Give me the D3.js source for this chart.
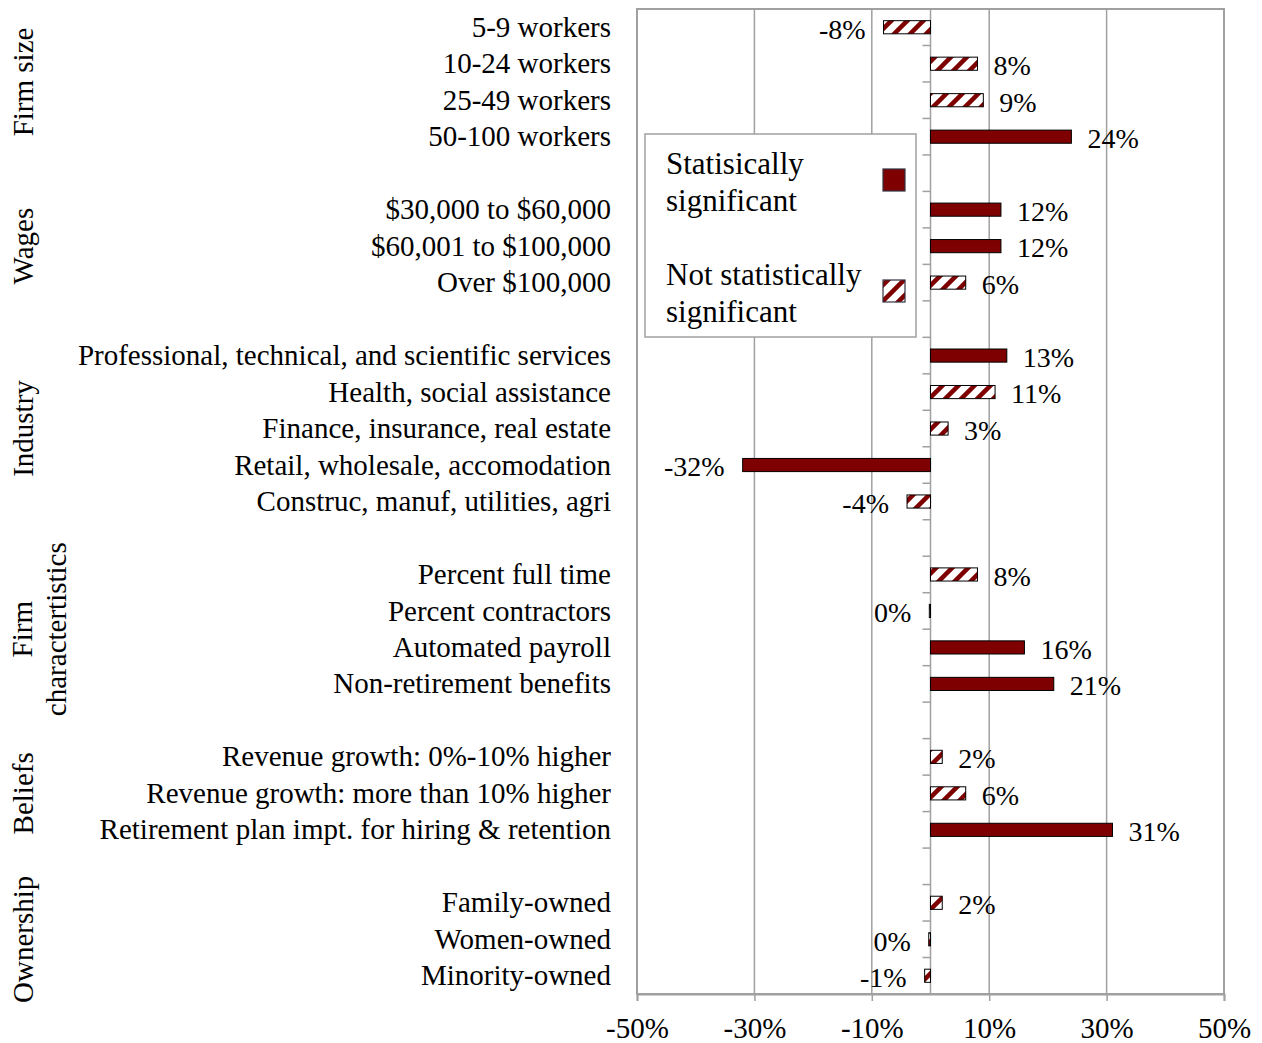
<!DOCTYPE html>
<html>
<head>
<meta charset="utf-8">
<script src="https://cdn.jsdelivr.net/npm/d3@7"></script>
<style>
  body { margin: 0; background: #fff; }
  text { font-family: "Liberation Serif", "Times New Roman", serif; fill: #000; }
</style>
</head>
<body>
<div id="chart"></div>
<script>
// rows from top to bottom, "" = spacer row
const categories = [
  "5-9 workers", "10-24 workers", "25-49 workers", "50-100 workers", "",
  "$30,000 to $60,000", "$60,001 to $100,000", "Over $100,000", "",
  "Professional, technical, and scientific services", "Health, social assistance",
  "Finance, insurance, real estate", "Retail, wholesale, accomodation",
  "Construc, manuf, utilities, agri", "",
  "Percent full time", "Percent contractors", "Automated payroll", "Non-retirement benefits", "",
  "Revenue growth: 0%-10% higher", "Revenue growth: more than 10% higher",
  "Retirement plan impt. for hiring & retention", "",
  "Family-owned", "Women-owned", "Minority-owned"
];
const values = [
  -8, 8, 9, 24, null,
  12, 12, 6, null,
  13, 11, 3, -32, -4, null,
  8, -0.2, 16, 21, null,
  2, 6, 31, null,
  2, -0.3, -1
];
// 1 = statistically significant
const significant = [
  0, 0, 0, 1, null,
  1, 1, 0, null,
  1, 0, 0, 1, 0, null,
  0, 0, 1, 1, null,
  0, 0, 1, null,
  0, 0, 0
];
const groups = [
  { name: ["Firm size"], first: 0, last: 3 },
  { name: ["Wages"], first: 5, last: 7 },
  { name: ["Industry"], first: 9, last: 13 },
  { name: ["Firm", "charactertistics"], first: 15, last: 18 },
  { name: ["Beliefs"], first: 20, last: 22 },
  { name: ["Ownership"], first: 24, last: 26 }
];
const xTicks = [-50, -30, -10, 10, 30, 50];
const legendItems = ["Statisically\nsignificant", "Not statistically\nsignificant"];

const width = 1262, height = 1043;
const plot = { left: 637, right: 1224, top: 9, bottom: 994 };
const red = "#7f0000", grid = "#a0a0a0";
const fontSize = 29, valueSize = 28, legendSize = 31;

const svg = d3.select("#chart").append("svg")
  .attr("width", width)
  .attr("height", height);

const defs = svg.append("defs");
const pat = defs.append("pattern")
  .attr("id", "hatch")
  .attr("patternUnits", "userSpaceOnUse")
  .attr("width", 16)
  .attr("height", 16);
pat.append("rect").attr("width", 16).attr("height", 16).attr("fill", "#fff");
pat.append("path")
  .attr("d", "M-4,4 L4,-4 M0,16 L16,0 M12,20 L20,12")
  .attr("stroke", red)
  .attr("stroke-width", 4.5);

const x = d3.scaleLinear().domain([-50, 50]).range([plot.left, plot.right]);
const rows = d3.range(categories.length);
const y = d3.scaleBand()
  .domain(rows)
  .range([plot.top, plot.bottom])
  .paddingInner(0.64)
  .paddingOuter(0.32);
const yEdge = d3.scaleLinear().domain([0, rows.length]).range([plot.top, plot.bottom]);

// gridlines
svg.append("g")
  .selectAll("line")
  .data(xTicks)
  .join("line")
  .attr("x1", d => x(d)).attr("x2", d => x(d))
  .attr("y1", plot.top).attr("y2", plot.bottom)
  .attr("stroke", grid)
  .attr("stroke-width", 1.5);

svg.append("rect")
  .attr("x", plot.left).attr("y", plot.top)
  .attr("width", plot.right - plot.left)
  .attr("height", plot.bottom - plot.top)
  .attr("fill", "none")
  .attr("stroke", grid)
  .attr("stroke-width", 2);

// x axis
const xAxis = svg.append("g")
  .attr("transform", `translate(0,${plot.bottom})`)
  .call(d3.axisBottom(x).tickValues(xTicks).tickSize(7).tickFormat(d => d + "%"));
xAxis.select(".domain").attr("stroke", grid).attr("stroke-width", 2);
xAxis.selectAll(".tick line").attr("stroke", grid).attr("stroke-width", 1.5);
xAxis.selectAll(".tick text")
  .attr("y", 23)
  .attr("dy", "0.71em")
  .style("font-size", fontSize + "px")
  .style("font-family", "Liberation Serif, Times New Roman, serif")
  .attr("fill", "#000");

// zero axis with category tick marks
const zero = svg.append("g");
zero.append("line")
  .attr("x1", x(0)).attr("x2", x(0))
  .attr("y1", plot.top).attr("y2", plot.bottom)
  .attr("stroke", grid).attr("stroke-width", 1.5);
zero.selectAll("line.tk")
  .data(d3.range(1, rows.length))
  .join("line")
  .attr("class", "tk")
  .attr("x1", x(0) - 8).attr("x2", x(0))
  .attr("y1", d => yEdge(d)).attr("y2", d => yEdge(d))
  .attr("stroke", grid).attr("stroke-width", 1.5);

// category labels
svg.append("g")
  .selectAll("text")
  .data(rows.filter(i => categories[i]))
  .join("text")
  .attr("x", plot.left - 26)
  .attr("y", i => y(i) + y.bandwidth() / 2)
  .attr("dy", "0.33em")
  .attr("text-anchor", "end")
  .style("font-size", fontSize + "px")
  .text(i => categories[i]);

// group labels
const gl = svg.append("g")
  .selectAll("text")
  .data(groups)
  .join("text")
  .attr("transform", d => {
    const cy = (y(d.first) + y(d.last) + y.bandwidth()) / 2;
    return `translate(${d.name.length > 1 ? 38 : 23},${cy}) rotate(-90)`;
  })
  .attr("text-anchor", "middle")
  .style("font-size", fontSize + "px");
gl.selectAll("tspan")
  .data(d => d.name.map((t, k) => ({ t, k, n: d.name.length })))
  .join("tspan")
  .attr("x", 0)
  .attr("dy", d => d.k === 0 ? (d.n > 1 ? "-0.2em" : "0.35em") : "1.15em")
  .text(d => d.t);

// bars
const barRows = rows.filter(i => values[i] !== null);
svg.append("g")
  .selectAll("rect")
  .data(barRows)
  .join("rect")
  .attr("x", i => x(Math.min(0, values[i])))
  .attr("y", i => y(i))
  .attr("width", i => Math.abs(x(values[i]) - x(0)))
  .attr("height", y.bandwidth())
  .attr("fill", i => significant[i] ? red : "url(#hatch)")
  .attr("stroke", "#000")
  .attr("stroke-width", 1);

// value labels
svg.append("g")
  .selectAll("text")
  .data(barRows)
  .join("text")
  .attr("x", i => values[i] >= 0 ? x(values[i]) + 16 : x(values[i]) - 18)
  .attr("y", i => y(i) + y.bandwidth() / 2 + 1.5)
  .attr("dy", "0.35em")
  .attr("text-anchor", i => values[i] >= 0 ? "start" : "end")
  .style("font-size", valueSize + "px")
  .text(i => (Math.round(values[i]) || 0) + "%");

// legend
const legend = svg.append("g");
legend.append("rect")
  .attr("x", 645).attr("y", 134)
  .attr("width", 271).attr("height", 203)
  .attr("fill", "#fff")
  .attr("stroke", grid).attr("stroke-width", 1.5);
legendItems.forEach((label, k) => {
  const top = 164 + k * 111;
  const t = legend.append("text")
    .attr("x", 666)
    .attr("y", top)
    .style("font-size", legendSize + "px");
  label.split("\n").forEach((line, j) => {
    t.append("tspan").attr("x", 666).attr("dy", j === 0 ? "0.33em" : "1.2em").text(line);
  });
  legend.append("rect")
    .attr("x", 883).attr("y", top + 5)
    .attr("width", 22).attr("height", 22)
    .attr("fill", k === 0 ? red : "url(#hatch)")
    .attr("stroke", "#334")
    .attr("stroke-width", 1.2);
});
</script>
</body>
</html>
